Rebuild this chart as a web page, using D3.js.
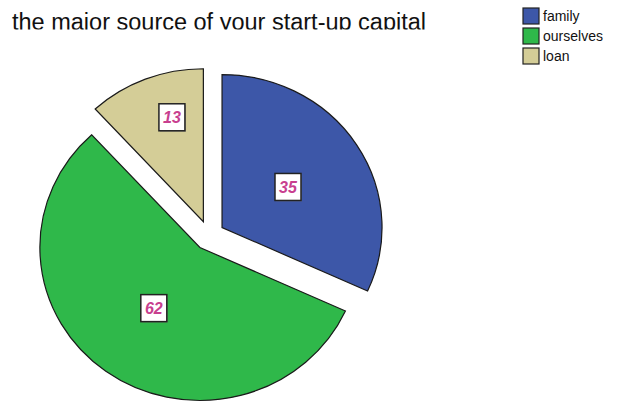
<!DOCTYPE html>
<html>
<head>
<meta charset="utf-8">
<script src="https://cdn.jsdelivr.net/npm/d3@7"></script>
<style>
  html, body { margin: 0; padding: 0; background: #fff; }
  #chart { width: 621px; height: 402px; }
</style>
</head>
<body>
<div id="chart"></div>
<script>
const title = "the major source of your start-up capital";
const categories = ["family", "ourselves", "loan"];
const counts = [35, 62, 13];
const colors = ["#3d57a8", "#2fb84a", "#d4cd97"];

const width = 621;
const height = 402;

const svg = d3.select("#chart")
  .append("svg")
  .attr("width", width)
  .attr("height", height);

// title, bottom cut off like in the original export
svg.append("clipPath")
  .attr("id", "title-clip")
  .append("rect")
  .attr("x", 0)
  .attr("y", 0)
  .attr("width", 460)
  .attr("height", 29.5);

svg.append("text")
  .attr("x", 12)
  .attr("y", 29.5)
  .attr("clip-path", "url(#title-clip)")
  .attr("font-family", "Liberation Sans, Arial, sans-serif")
  .attr("font-size", "23.5px")
  .attr("fill", "#111")
  .text(title);

// pie
const cx = 209;
const cy = 235.5;
const radius = 160;
const sy = 0.956; // picture is slightly squashed vertically
const explode = 15.5;

const pie = d3.pie().sort(null).value(d => d)(counts);
const arc = d3.arc().innerRadius(0).outerRadius(radius);
const total = d3.sum(counts);

const pieG = svg.append("g")
  .attr("transform", `translate(${cx},${cy}) scale(1,${sy})`);

pie.forEach((p, i) => {
  const mid = (p.startAngle + p.endAngle) / 2;
  const dx = explode * Math.sin(mid);
  const dy = -explode * Math.cos(mid);
  pieG.append("path")
    .attr("d", arc(p))
    .attr("transform", `translate(${dx},${dy})`)
    .attr("fill", colors[i])
    .attr("stroke", "#1a1a1a")
    .attr("stroke-width", 1.2)
    .attr("vector-effect", "non-scaling-stroke");
});

// value labels
const labelG = svg.append("g").attr("transform", `translate(${cx},${cy})`);

pie.forEach((p, i) => {
  let mid = (p.startAngle + p.endAngle) / 2;
  const share = counts[i] / total;
  // small slices get their label pushed out and toward the slice's open side
  if (share < 0.15) mid += 0.08;
  const r = explode + radius * (share < 0.15 ? 0.71 : 0.49);
  const lx = r * Math.sin(mid);
  const ly = -r * Math.cos(mid) * sy;

  const lab = labelG.append("g").attr("transform", `translate(${lx},${ly})`);
  lab.append("rect")
    .attr("x", -12)
    .attr("y", -12.5)
    .attr("width", 26)
    .attr("height", 27)
    .attr("fill", "#777")
    .attr("opacity", 0.5);
  lab.append("rect")
    .attr("x", -13)
    .attr("y", -13.5)
    .attr("width", 26)
    .attr("height", 27)
    .attr("fill", "#fff")
    .attr("stroke", "#222")
    .attr("stroke-width", 1.5);
  lab.append("text")
    .attr("x", 0)
    .attr("y", 6)
    .attr("text-anchor", "middle")
    .attr("font-family", "Liberation Sans, Arial, sans-serif")
    .attr("font-size", "16px")
    .attr("font-weight", "700")
    .attr("font-style", "italic")
    .attr("fill", "#c83f8f")
    .text(counts[i]);
});

// legend
const legend = svg.append("g").attr("transform", "translate(523,8)");

categories.forEach((cat, i) => {
  const y = i * 20;
  legend.append("rect")
    .attr("x", 0)
    .attr("y", y)
    .attr("width", 16)
    .attr("height", 16)
    .attr("fill", colors[i])
    .attr("stroke", "#222")
    .attr("stroke-width", 1.2);
  legend.append("text")
    .attr("x", 20)
    .attr("y", y + 13)
    .attr("font-family", "Liberation Sans, Arial, sans-serif")
    .attr("font-size", "14px")
    .attr("fill", "#111")
    .text(cat);
});
</script>
</body>
</html>
